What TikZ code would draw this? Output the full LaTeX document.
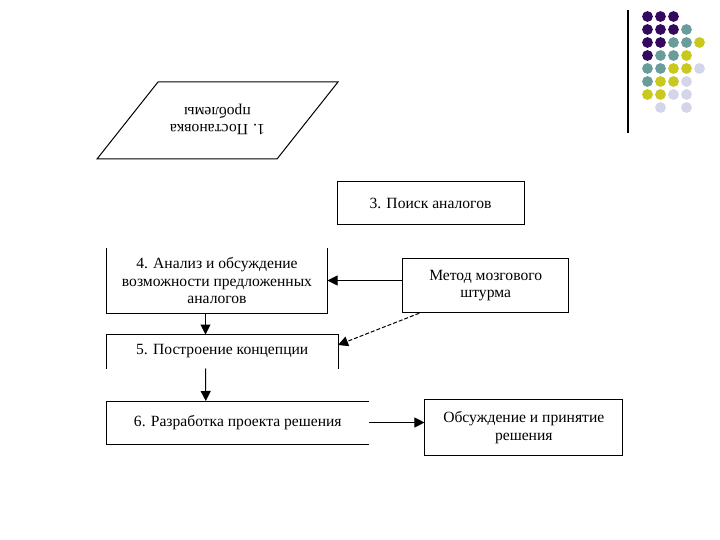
\documentclass[tikz,border=0pt]{standalone}
\usepackage{fontspec}
\setmainfont{Liberation Serif}
\usepackage{xcolor}
\definecolor{dotpurple}{HTML}{330A5E}
\definecolor{dotteal}{HTML}{6A9C9C}
\definecolor{dotolive}{HTML}{C8C81E}
\definecolor{dotlilac}{HTML}{D4D4EA}
\usepackage{tikz}
\usetikzlibrary{arrows.meta, calc}

\begin{document}
\begin{tikzpicture}[
    x=1pt, y=-1pt,
    box/.style={rectangle, draw=black, line width=1pt, inner sep=0pt,
        align=center, font=\fontsize{15.6}{17.5}\selectfont},
    openbox/.style={box, draw=none},
    edge/.style={line width=1pt},
    arr/.style={-{Triangle[length=10pt, width=10pt]}, line width=1pt}
]
\useasboundingbox (0,0) rectangle (720,540);

% step 1, drawn upside down
\coordinate (p1) at (97,159);  \coordinate (p2) at (158,82);
\coordinate (p3) at (338,82);  \coordinate (p4) at (277,159);
\draw[edge] (p1) -- (p2) -- (p3) -- (p4) -- cycle;
\node[rotate=180, align=center, font=\fontsize{15.6}{17.5}\selectfont] (A) at (217.5,119.5) {1. Постановка\\проблемы};

\node[box, minimum width=187pt, minimum height=43pt] (C) at (430.5,203) {3. Поиск аналогов};
\node[openbox, minimum width=220pt, minimum height=65pt] (D) at (217,280.5) {4. Анализ и обсуждение\\возможности предложенных\\аналогов};
\node[box, minimum width=166pt, minimum height=54.5pt] (M) at (485.7,285.5) {Метод мозгового\\штурма};
\node[openbox, minimum width=230.5pt, minimum height=33pt] (E) at (222.25,351.5) {5. Построение концепции};
\node[openbox, minimum width=261pt, minimum height=42pt] (F) at (237.8,422.5) {6. Разработка проекта решения};
\node[box, minimum width=197.7pt, minimum height=55.7pt] (R) at (523.8,427.8) {Обсуждение и принятие\\решения};

% open sides
\draw[edge] (D.north west) -- (D.south west) -- (D.south east) -- (D.north east);
\draw[edge] (E.south west) -- (E.north west) -- (E.north east) -- (E.south east);
\draw[edge] (F.north east) -- (F.north west) -- (F.south west) -- (F.south east);

\draw[arr] ([xshift=99pt]D.south west) -- ([xshift=99pt]E.north west);
\draw[arr] ([xshift=99pt]E.south west) -- ([xshift=99pt]F.north west);
\draw[arr] (D.east -| M.west) -- (D.east);
\draw[arr, dash pattern=on 4pt off 2pt] ([xshift=17pt]M.south west) -- ([yshift=6.5pt]E.east);
\draw[arr] (F.east) -- (F.east -| R.west);

% corner decoration
\draw[line width=1.5pt] (628,10) -- (628,133);
\foreach \c/\r/\col in {0/0/dotpurple, 1/0/dotpurple, 2/0/dotpurple,
    0/1/dotpurple, 1/1/dotpurple, 2/1/dotpurple, 3/1/dotteal,
    0/2/dotpurple, 1/2/dotpurple, 2/2/dotteal, 3/2/dotteal, 4/2/dotolive,
    0/3/dotpurple, 1/3/dotteal, 2/3/dotteal, 3/3/dotolive,
    0/4/dotteal, 1/4/dotteal, 2/4/dotolive, 3/4/dotolive, 4/4/dotlilac,
    0/5/dotteal, 1/5/dotolive, 2/5/dotolive, 3/5/dotlilac,
    0/6/dotolive, 1/6/dotolive, 2/6/dotlilac, 3/6/dotlilac,
    1/7/dotlilac, 3/7/dotlilac}
    \fill[\col] ({647.5+13*\c},{16.5+13*\r}) circle (5.4pt);
\end{tikzpicture}
\end{document}
